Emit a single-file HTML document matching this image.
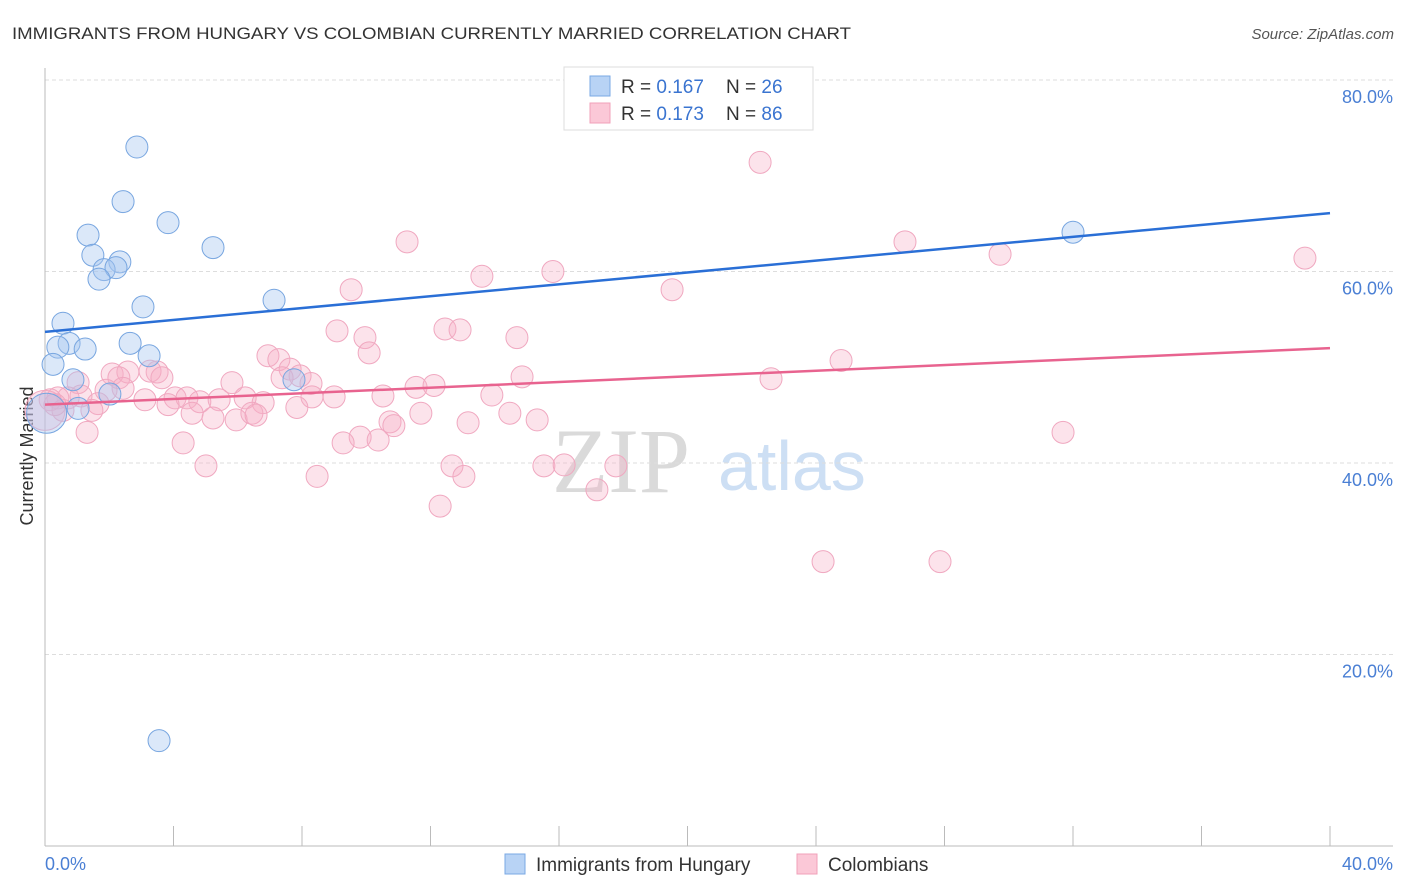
<!DOCTYPE html>
<html><head><meta charset="utf-8"><style>
body{margin:0;background:#fff;font-family:"Liberation Sans",sans-serif;}
svg{display:block}
</style></head><body>
<svg id="chart" width="1406" height="892">
<text x="12" y="39" font-size="17" fill="#333" textLength="839" lengthAdjust="spacingAndGlyphs">IMMIGRANTS FROM HUNGARY VS COLOMBIAN CURRENTLY MARRIED CORRELATION CHART</text>
<text x="1394" y="39" font-size="15" fill="#555" font-style="italic" text-anchor="end">Source: ZipAtlas.com</text>
<g>
<text x="552" y="492" font-family="Liberation Serif,serif" font-size="92" fill="#dadada">ZIP</text>
<text x="718" y="490" font-size="70" fill="#cddff4">atlas</text>
</g>
<g id="grid"></g>
<line x1="45" y1="68" x2="45" y2="846" stroke="#bbb"/>
<line x1="45" y1="846" x2="1393" y2="846" stroke="#bbb"/>
<text x="33" y="456" font-size="18" fill="#333" text-anchor="middle" transform="rotate(-90 33 456)">Currently Married</text>
<text x="45" y="870" font-size="18" fill="#4a7fd4">0.0%</text>
<text x="1393" y="870" font-size="18" fill="#4a7fd4" text-anchor="end">40.0%</text>
<g id="marks"></g>
<g>
<rect x="564" y="67" width="249" height="63" fill="#fff" stroke="#ddd"/>
<rect x="590" y="76" width="20" height="20" fill="#b8d3f5" stroke="#7aa8e4"/>
<rect x="590" y="103" width="20" height="20" fill="#fbc8d7" stroke="#f0a0ba"/>
<text x="621" y="93" font-size="19" fill="#333">R = <tspan fill="#3a74d0">0.167</tspan></text>
<text x="726" y="93" font-size="19" fill="#333">N = <tspan fill="#3a74d0">26</tspan></text>
<text x="621" y="120" font-size="19" fill="#333">R = <tspan fill="#3a74d0">0.173</tspan></text>
<text x="726" y="120" font-size="19" fill="#333">N = <tspan fill="#3a74d0">86</tspan></text>
</g>
<g>
<rect x="505" y="854" width="20" height="20" fill="#b8d3f5" stroke="#7aa8e4"/>
<text x="536" y="871" font-size="19" fill="#333">Immigrants from Hungary</text>
<rect x="797" y="854" width="20" height="20" fill="#fbc8d7" stroke="#f0a0ba"/>
<text x="828" y="871" font-size="19" fill="#333">Colombians</text>
</g>
</svg>
<script>
const yTicks=[20,40,60,80];
const xTicks=[0,4,8,12,16,20,24,28,32,36,40];
const blueX=[2.86,2.43,3.83,1.34,5.23,1.49,2.33,1.84,2.21,1.68,3.05,7.13,0.56,0.75,0.40,1.25,2.65,3.24,0.25,0.87,2.02,1.03,7.75,3.55,0.05,32.0];
const blueY=[73.0,67.3,65.1,63.8,62.5,61.7,61.0,60.2,60.4,59.2,56.3,57.0,54.6,52.5,52.1,51.9,52.5,51.2,50.3,48.7,47.2,45.7,48.7,11.0,45.2,64.1];
const pinkX=[22.26,11.27,26.77,29.73,39.22,15.81,13.60,19.52,9.53,9.09,12.45,12.92,9.96,14.69,10.09,6.94,7.28,24.78,7.63,7.94,7.38,14.85,22.60,8.28,2.09,2.58,3.49,3.27,2.30,3.64,5.82,2.43,1.90,11.55,12.11,1.03,1.12,0.72,0.40,0.16,0.0,3.11,4.05,4.42,4.82,5.42,6.23,6.79,9.00,8.31,10.52,13.91,3.83,1.65,7.84,1.46,4.58,5.23,5.95,6.44,6.57,11.70,14.47,15.32,10.74,10.86,13.17,9.81,9.28,10.37,4.30,1.31,31.69,5.01,12.67,15.53,16.16,17.77,8.47,13.04,17.18,12.30,24.22,27.86,0.56,0.31];
const pinkY=[71.4,63.1,63.1,61.8,61.4,60.0,59.5,58.1,58.1,53.8,54.0,53.9,53.1,53.1,51.5,51.2,50.8,50.7,49.8,49.1,48.9,49.0,48.8,48.3,49.3,49.5,49.5,49.6,48.9,48.9,48.4,47.8,47.6,47.9,48.1,48.4,47.0,46.8,46.8,46.6,45.5,46.6,46.8,46.8,46.4,46.6,46.8,46.3,46.9,46.9,47.0,47.1,46.1,46.2,45.8,45.5,45.2,44.7,44.5,45.2,45.0,45.2,45.2,44.5,44.3,43.9,44.2,42.7,42.1,42.4,42.1,43.2,43.2,39.7,39.7,39.7,39.8,39.7,38.6,38.6,37.2,35.5,29.7,29.7,45.5,46.1];
const blueTrend=[53.7,66.1];
const pinkTrend=[46.1,52.0];
const X=v=>45+v*32.125, Y=v=>846-v*9.575;
const NS="http://www.w3.org/2000/svg";
const grid=document.getElementById('grid'), marks=document.getElementById('marks');
function mk(tag,attrs,parent){const e=document.createElementNS(NS,tag);for(const k in attrs)e.setAttribute(k,attrs[k]);parent.appendChild(e);return e;}
yTicks.forEach(t=>{
 const l=mk('line',{x1:45,x2:1393,y1:Y(t),y2:Y(t),stroke:'#ddd','stroke-dasharray':'4,3'},grid);
 
 
 const tx=mk('text',{x:1393,y:Y(t)+23,'font-size':18,fill:'#4a7fd4','text-anchor':'end'},grid);
 tx.textContent=t.toFixed(1)+'%';
 
 
});
xTicks.forEach(t=>{
 const l=mk('line',{x1:X(t),x2:X(t),y1:826,y2:846,stroke:'#bbb'},grid);
 
 
});
function dots(xs,ys,fill,stroke,name){
 xs.forEach((x,i)=>{
  const r=(x<0.1)?20:11;
  const c=mk('circle',{cx:X(x),cy:Y(ys[i]),r:r,fill:fill,stroke:stroke,'stroke-width':1},marks);
  
  
 });
}
dots(pinkX,pinkY,'rgba(246,175,199,0.35)','#f0a8c0','colombian-point');
dots(blueX,blueY,'rgba(165,198,240,0.4)','#78a6e0','hungary-point');
const bl=mk('line',{x1:X(0),y1:Y(blueTrend[0]),x2:X(40),y2:Y(blueTrend[1]),stroke:'#2a6fd6','stroke-width':2.5},marks);


const pl=mk('line',{x1:X(0),y1:Y(pinkTrend[0]),x2:X(40),y2:Y(pinkTrend[1]),stroke:'#e8638f','stroke-width':2.5},marks);


</script>
</body></html>
